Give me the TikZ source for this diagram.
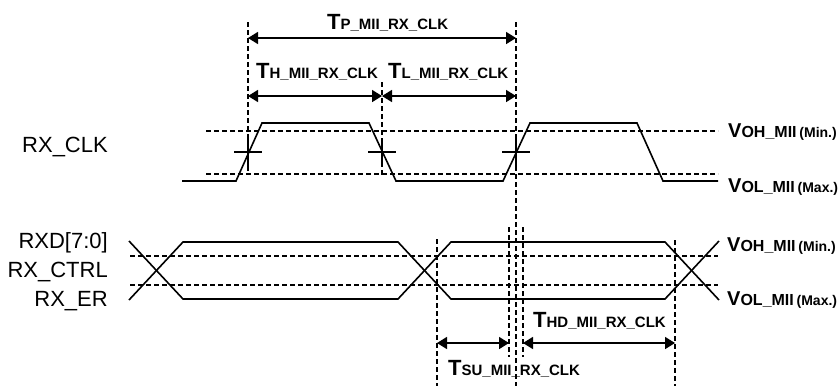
\documentclass[tikz,border=0pt]{standalone}
\usepackage{fontspec}
\setmainfont{Liberation Sans}
\usetikzlibrary{arrows.meta}

% label text
\newcommand{\tname}[1]{{\bfseries\fontsize{22}{26}\selectfont T}{\bfseries\fontsize{15}{18}\selectfont #1}}
\newcommand{\vname}[2]{{\bfseries\fontsize{20}{24}\selectfont V}{\bfseries\fontsize{16}{19}\selectfont #1} {\bfseries\fontsize{14}{17}\selectfont #2}}

\tikzset{
  sig/.style={line width=1.6pt, line join=miter},
  tick/.style={line width=1.3pt},
  lvl/.style={line width=1.3pt, dash pattern=on 5pt off 3pt},
  guide/.style={line width=1.3pt, dash pattern=on 5pt off 3pt},
  dim/.style={line width=1.6pt, {Triangle[length=10pt,width=12pt]}-{Triangle[length=10pt,width=12pt]}},
  pin/.style={anchor=base east, inner sep=0pt, font=\fontsize{22}{26}\selectfont},
  lbl/.style={anchor=base west, inner sep=0pt}
}

\begin{document}
\begin{tikzpicture}[x=1pt,y=-1pt]
\useasboundingbox (0,0) rectangle (838,386);

% Signal names
\node[pin] (nclk) at (108,152) {RX\_CLK};
\node[pin] (nrxd) at (108,248) {RXD[7:0]};
\node[pin] (nctl) at (108,277) {RX\_CTRL};
\node[pin] (ner)  at (108,306) {RX\_ER};

% Clock levels
\draw[lvl] (206,131) -- (718,131);
\draw[lvl] (206,174) -- (718,174);
\node[lbl] (vohc) at (728,137) {\vname{OH\_MII}{(Min.)}};
\node[lbl] (volc) at (728,192) {\vname{OL\_MII}{(Max.)}};

% Clock waveform
\draw[sig] (182,181) -- (236,181) -- (262,123) -- (369,123) -- (396,181)
  -- (503,181) -- (530,123) -- (637,123) -- (663,181) -- (718,181);
\draw[tick] (234,152) -- (262,152) (248,138) -- (248,166);
\draw[tick] (368,152) -- (396,152) (382,138) -- (382,166);
\draw[tick] (502,152) -- (530,152) (516,138) -- (516,166);

% Data levels
\draw[lvl] (130,256) -- (718,256);
\draw[lvl] (130,285) -- (718,285);
\node[lbl] (vohd) at (727,251) {\vname{OH\_MII}{(Min.)}};
\node[lbl] (vold) at (727,305) {\vname{OL\_MII}{(Max.)}};

% Data waveform
\draw[sig] (129,241) -- (183,299) -- (398,299) -- (451,242) -- (665,242) -- (719,300);
\draw[sig] (129,300) -- (183,242) -- (398,242) -- (451,299) -- (665,299) -- (719,241);

% Guide lines
\draw[guide] (248,22) -- (248,175);
\draw[guide] (382,82) -- (382,175);
\draw[guide] (516,22) -- (516,386);
\draw[guide] (437,239) -- (437,386);
\draw[guide] (509,227) -- (509,357);
\draw[guide] (523,227) -- (523,357);
\draw[guide] (675,240) -- (675,386);

% Timing arrows
\coordinate (tp0) at (248,38);
\coordinate (tp1) at (516,38);
\coordinate (th0) at (248,96);
\coordinate (th1) at (382,96);
\coordinate (tl1) at (516,96);
\coordinate (su0) at (437,343);
\coordinate (su1) at (509,343);
\coordinate (hd0) at (523,343);
\coordinate (hd1) at (675,343);
\draw[dim] (tp0) -- (tp1);
\draw[dim] (th0) -- (th1);
\draw[dim] (th1) -- (tl1);
\draw[dim] (su0) -- (su1);
\draw[dim] (hd0) -- (hd1);
\node[lbl] (tp) at (327,29) {\tname{P\_MII\_RX\_CLK}};
\node[lbl] (th) at (256,78) {\tname{H\_MII\_RX\_CLK}};
\node[lbl] (tl) at (388,78) {\tname{L\_MII\_RX\_CLK}};
\node[lbl] (thd) at (533,327) {\tname{HD\_MII\_RX\_CLK}};
\node[lbl] (tsu) at (448,375) {\tname{SU\_MII\_RX\_CLK}};

\end{tikzpicture}
\end{document}
